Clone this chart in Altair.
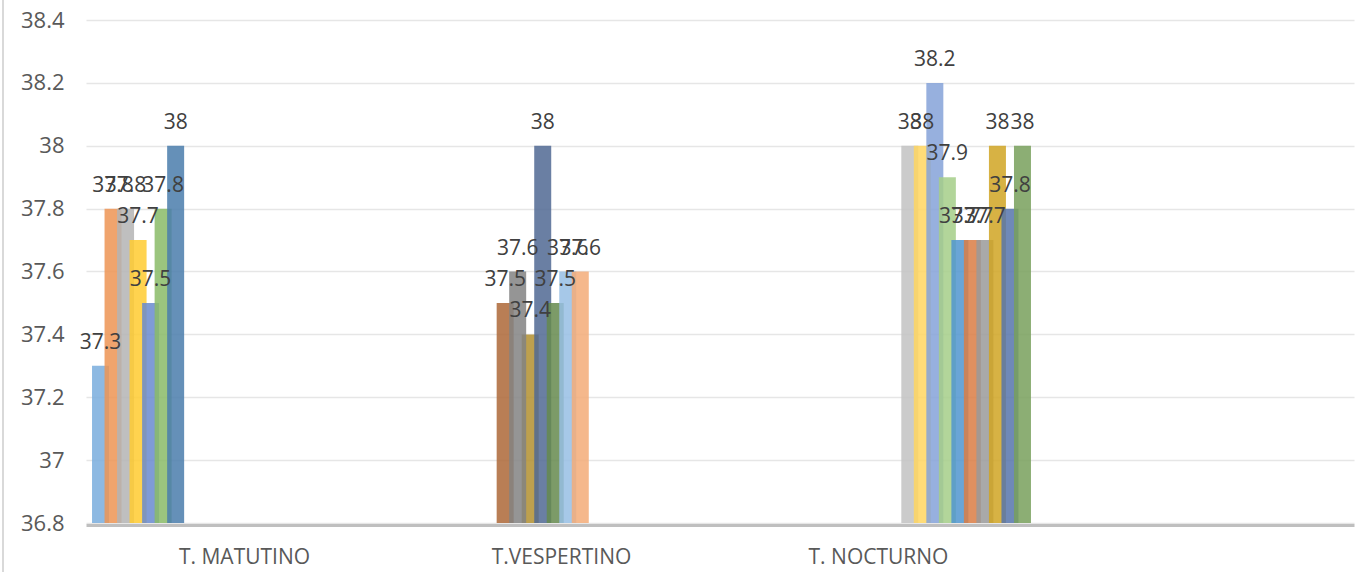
import altair as alt
import pandas as pd

categories = ["T. MATUTINO", "T.VESPERTINO", "T. NOCTURNO", ""]
series = [f"S{i}" for i in range(1, 25)]
series_category = (["T. MATUTINO"] * 7 + ["T.VESPERTINO"] * 7 + ["T. NOCTURNO"] * 10)
values = [37.3, 37.8, 37.8, 37.7, 37.5, 37.8, 38.0,
          37.5, 37.6, 37.4, 38.0, 37.5, 37.6, 37.6,
          38.0, 38.0, 38.2, 37.9, 37.7, 37.7, 37.7, 38.0, 37.8, 38.0]
colors = ["#79ADDD", "#ED9454", "#B4B4B4", "#FFCB30", "#688ACF", "#89BB67", "#4A7CAB",
          "#AD6737", "#828282", "#B18F2F", "#506893", "#65894D", "#96BEE4", "#F3AB78",
          "#C2C2C2", "#FFD660", "#85A2D8", "#A4CE88", "#5095CF", "#DB7C44", "#9A9A9A",
          "#D0A423", "#5674AB", "#78A05C"]
y_ticks = [36.8, 37.0, 37.2, 37.4, 37.6, 37.8, 38.0, 38.2, 38.4]

df = pd.DataFrame({"category": series_category, "series": series, "value": values})

FONT = "Open Sans"

x_enc = alt.X("category:N",
              scale=alt.Scale(domain=categories, paddingInner=0, paddingOuter=0),
              axis=alt.Axis(title=None, labelAngle=0, ticks=False, grid=False,
                            domainColor="#bfbfbf", domainWidth=3, offset=2,
                            labelFont=FONT, labelFontSize=21, labelColor="#595959",
                            labelPadding=21))
xo_enc = alt.XOffset("series:N",
                     scale=alt.Scale(domain=series, paddingInner=0, paddingOuter=0.66))
y_enc = alt.Y("value:Q",
              scale=alt.Scale(domain=[36.8, 38.4], zero=False, nice=False),
              axis=alt.Axis(title=None, values=y_ticks, format=".1~f", domain=False,
                            ticks=False, gridColor="#e6e6e6", gridWidth=1.5,
                            labelFont=FONT, labelFontSize=22, labelColor="#595959",
                            labelPadding=22))

base = alt.Chart(df)

bars = base.mark_bar(width=17, opacity=0.85).encode(
    x=x_enc,
    xOffset=xo_enc,
    y=y_enc,
    y2=alt.datum(36.8),
    color=alt.Color("series:N", scale=alt.Scale(domain=series, range=colors), legend=None),
    order=alt.Order("series:N"),
)

labels = base.mark_text(baseline="alphabetic", dy=-17, font=FONT, fontSize=21,
                        color="#404040").encode(
    x=x_enc,
    xOffset=xo_enc,
    y=y_enc,
    text=alt.Text("value:Q", format=".1~f"),
)

frame = alt.Chart(pd.DataFrame({"a": [0]})).mark_rule(color="#d9d9d9", strokeWidth=2).encode(
    x=alt.value(-83), y=alt.value(-20), y2=alt.value(552)
)

chart = alt.layer(bars, labels, frame).properties(
    width=1268, height=503,
    background="white",
    autosize=alt.AutoSizeParams(type="none"),
    padding={"left": 86, "top": 20, "right": 17, "bottom": 49},
).configure_view(stroke="transparent", strokeOpacity=0, strokeWidth=0)

chart.save("out.html", embed_options={"renderer": "svg", "actions": False})
